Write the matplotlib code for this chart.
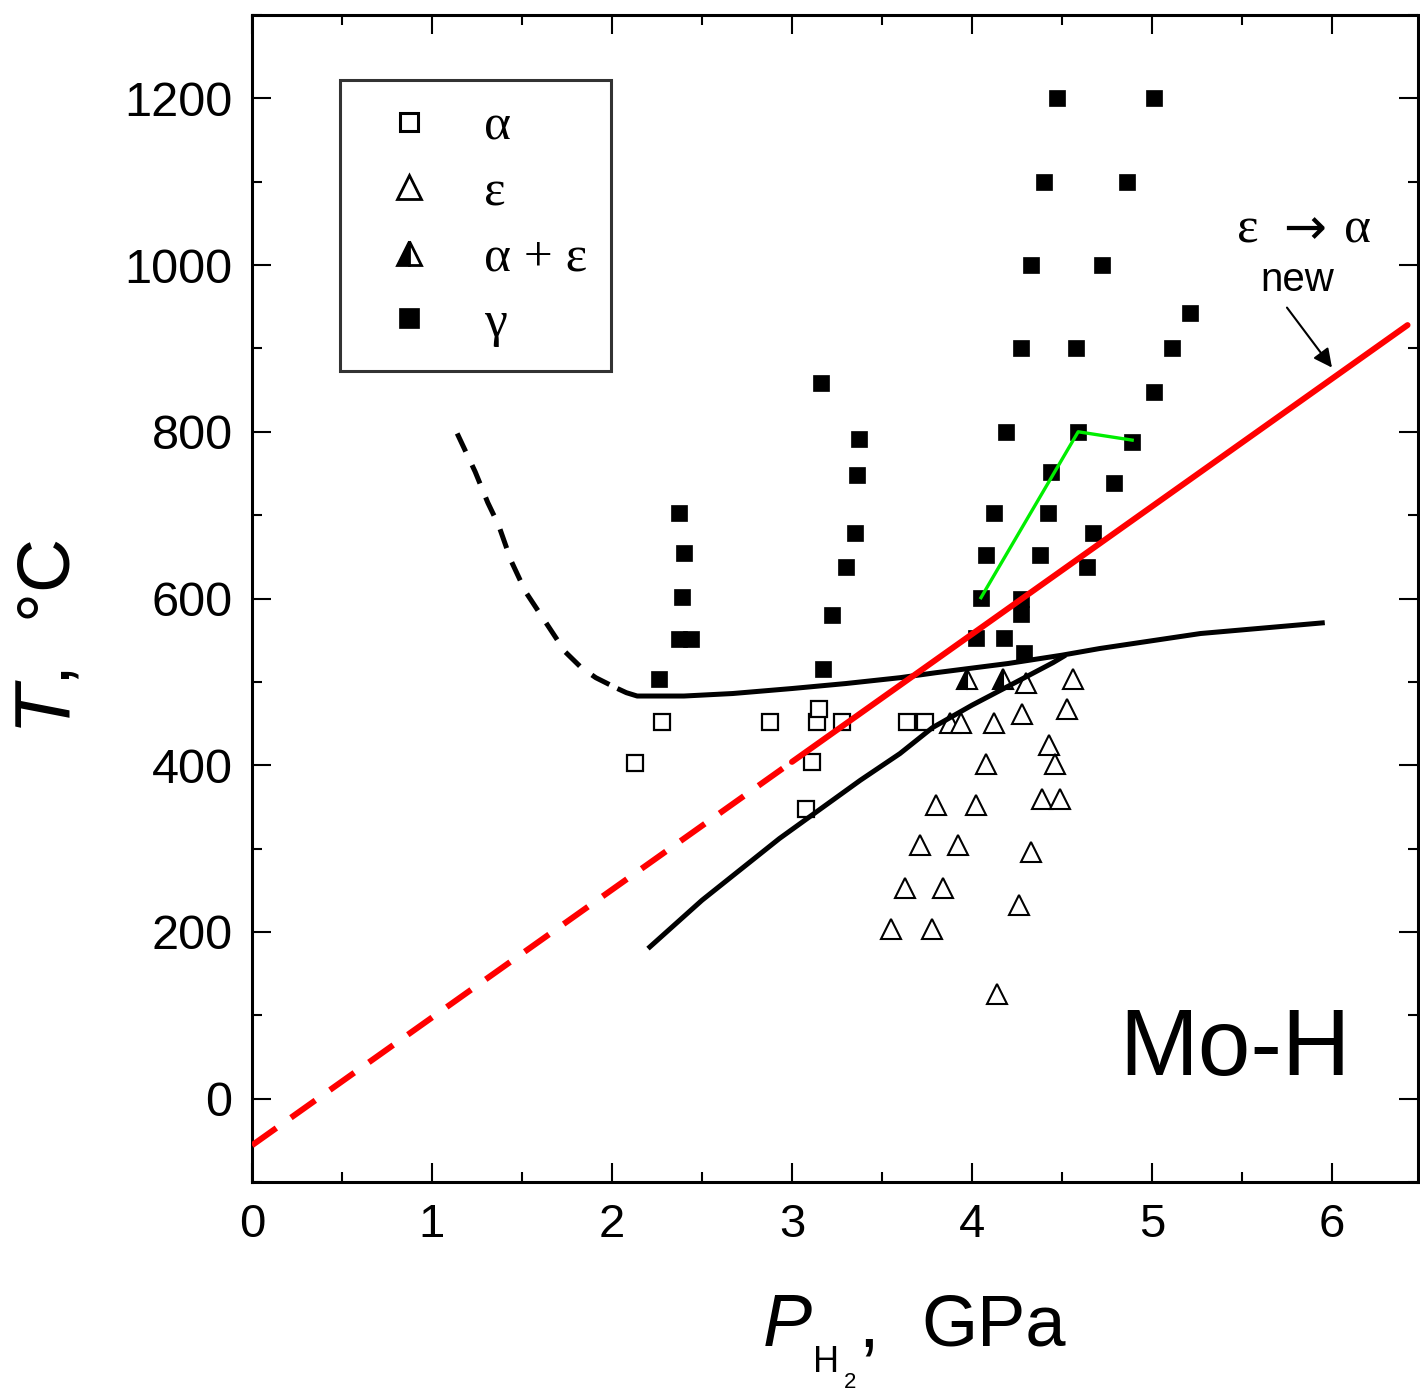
import matplotlib
matplotlib.use("Agg")
import matplotlib.pyplot as plt
from matplotlib.lines import Line2D
from matplotlib.ticker import MultipleLocator

plt.rcParams['font.family'] = ['Liberation Sans', 'DejaVu Sans']

# ---------------- data ----------------
gamma_P = [2.26, 2.37, 2.40, 2.39, 2.37, 2.44, 3.16, 3.17, 3.22, 3.30, 3.35, 3.36, 3.37,
           4.02, 4.05, 4.08, 4.12, 4.19, 4.18, 4.27, 4.27, 4.29, 4.27, 4.33, 4.40, 4.47,
           5.01, 4.86, 4.72, 4.58, 5.21, 5.11, 5.01, 4.89, 4.59, 4.44, 4.42, 4.38,
           4.79, 4.67, 4.64]
gamma_T = [504, 703, 654, 602, 552, 552, 859, 515, 580, 638, 679, 748, 791,
           553, 601, 652, 702, 800, 553, 600, 582, 535, 901, 1000, 1100, 1200,
           1200, 1100, 1000, 901, 943, 900, 848, 788, 800, 752, 702, 652,
           738, 678, 638]

alpha_P = [2.13, 2.28, 2.88, 3.14, 3.15, 3.28, 3.11, 3.08, 3.64, 3.74]
alpha_T = [403, 452, 452, 452, 468, 452, 404, 347, 452, 452]

eps_P = [3.88, 3.94, 4.12, 4.30, 4.56, 4.53, 4.28, 4.43, 4.46, 4.08, 4.39, 4.49,
         3.80, 4.02, 3.71, 3.92, 4.33, 3.63, 3.84, 4.26, 3.55, 3.78, 4.14]
eps_T = [451, 451, 451, 499, 504, 468, 462, 424, 402, 402, 360, 360,
         352, 352, 304, 304, 296, 253, 253, 232, 204, 204, 126]

ae_P = [3.97, 4.17]
ae_T = [504, 504]

# phase boundaries
bnd_dash_P = [1.14, 1.24, 1.31, 1.37, 1.44, 1.52, 1.63, 1.74, 1.83, 1.91, 2.03]
bnd_dash_T = [798, 752, 715, 688, 645, 608, 572, 536, 517, 505, 492]
bnd_up_P = [2.03, 2.08, 2.14, 2.40, 2.67, 3.00, 3.30, 3.60, 3.80, 4.20, 4.50, 4.71, 5.27, 5.96]
bnd_up_T = [492, 487, 483, 483, 486, 492, 498, 505, 511, 522, 532, 540, 558, 571]
bnd_low_P = [2.20, 2.50, 2.93, 3.38, 3.60, 3.78, 4.00, 4.23, 4.45, 4.52]
bnd_low_T = [180, 238, 312, 382, 414, 445, 472, 498, 523, 532]

red_P = [0.0, 3.0, 6.42]
red_T = [-56, 404, 928]

green_P = [4.05, 4.59, 4.89]
green_T = [601, 800, 790]

x_ticks = [0, 1, 2, 3, 4, 5, 6]
y_ticks = [0, 200, 400, 600, 800, 1000, 1200]

# ---------------- figure ----------------
W, H = 1420, 1394
fig = plt.figure(figsize=(W / 100, H / 100), dpi=100)
ax = fig.add_axes([252 / W, 1 - 1182 / H, 1166 / W, 1167 / H])
ax.set_xlim(0, 6.478)
ax.set_ylim(-100, 1300)

# lines
ax.plot(bnd_dash_P, bnd_dash_T, color='black', lw=3.6, ls=(0, (4, 3)), zorder=3,
        solid_joinstyle='round')
ax.plot(bnd_up_P, bnd_up_T, color='black', lw=3.6, zorder=3, solid_capstyle='butt',
        solid_joinstyle='round')
ax.plot(bnd_low_P, bnd_low_T, color='black', lw=3.6, zorder=3, solid_capstyle='butt',
        solid_joinstyle='round')
ax.plot(red_P[:2], red_T[:2], color='#ff0000', lw=4.3, ls=(0, (5, 3)), zorder=4)
ax.plot(red_P[1:], red_T[1:], color='#ff0000', lw=4.3, zorder=4, solid_capstyle='round')
ax.plot(green_P, green_T, color='#00ee00', lw=2.4, zorder=4)

# markers
ms_sq = 12
ms_tr = 15
ax.plot(gamma_P, gamma_T, ls='none', marker='s', ms=ms_sq, mfc='black', mec='black',
        mew=0.5, zorder=2)
ax.plot(alpha_P, alpha_T, ls='none', marker='s', ms=ms_sq, mfc='white', mec='black',
        mew=1.6, zorder=2)
ax.plot(eps_P, eps_T, ls='none', marker='^', ms=ms_tr, mfc='white', mec='black',
        mew=1.5, zorder=2)
ax.plot(ae_P, ae_T, ls='none', marker='^', ms=ms_tr, mfc='black', mec='black',
        mew=1.5, fillstyle='left', markerfacecoloralt='white', zorder=2)

# axes style
for s in ax.spines.values():
    s.set_linewidth(2.2)
ax.set_xticks(x_ticks)
ax.set_yticks(y_ticks)
ax.xaxis.set_minor_locator(MultipleLocator(0.5))
ax.yaxis.set_minor_locator(MultipleLocator(100))
ax.tick_params(which='both', direction='in', top=True, right=True, width=1.5)
ax.tick_params(which='major', length=14)
ax.tick_params(which='minor', length=7)
ax.tick_params(axis='x', which='major', labelsize=34, pad=15)
ax.tick_params(axis='y', which='major', labelsize=35, pad=14)

# legend
serif = ['Liberation Serif', 'DejaVu Serif']
handles = [
    Line2D([], [], ls='none', marker='s', ms=13, mfc='white', mec='black', mew=2.2),
    Line2D([], [], ls='none', marker='^', ms=17, mfc='white', mec='black', mew=2.0),
    Line2D([], [], ls='none', marker='^', ms=17, mfc='black', mec='black', mew=2.0,
           fillstyle='left', markerfacecoloralt='white'),
    Line2D([], [], ls='none', marker='s', ms=14, mfc='black', mec='black', mew=0.5),
]
labels = ['α', 'ε', 'α + ε', 'γ']
leg = ax.legend(handles, labels, loc='upper left', bbox_to_anchor=(0.0755, 0.944),
                borderaxespad=0, frameon=True, fancybox=False, edgecolor='black',
                prop={'family': serif, 'size': 37}, handlelength=1.77,
                handletextpad=0.57, borderpad=0.46, labelspacing=0.36)
leg.get_frame().set_linewidth(2.2)
leg.set_zorder(5)

# annotations
ax.text(5.53, 1042, 'ε', fontsize=37, family=serif, ha='center', va='center')
ax.text(5.85, 1042, '→', fontsize=37, family=['DejaVu Sans'], ha='center', va='center')
ax.text(6.14, 1042, 'α', fontsize=37, family=serif, ha='center', va='center')
ax.text(5.81, 982, 'new', fontsize=29, ha='center', va='center')
ax.annotate('', xy=(6.0, 877), xytext=(5.75, 949),
            arrowprops=dict(arrowstyle='-|>', lw=1.5, color='black', mutation_scale=28,
                            shrinkA=0, shrinkB=0))
ax.text(5.46, 58, 'Mo-H', fontsize=68, ha='center', va='center')

# axis labels (built from pieces to mimic the sub-scripted P_H2)
def ftext(px, py, s, **kw):
    fig.text(px / W, 1 - py / H, s, ha='left', va='baseline', **kw)

ftext(763, 1346, 'P', fontsize=53, style='italic')
ftext(813, 1372, 'H', fontsize=26)
ftext(844, 1388, '2', fontsize=16)
ftext(858, 1346, ',', fontsize=53)
ftext(921, 1346, 'GPa', fontsize=52)

fig.text(50 / W, 1 - 635 / H, r'$\mathit{T}$,  °C', fontsize=54, rotation=90,
         ha='center', va='center', math_fontfamily='custom')
fig.savefig('out.png', dpi=100)
